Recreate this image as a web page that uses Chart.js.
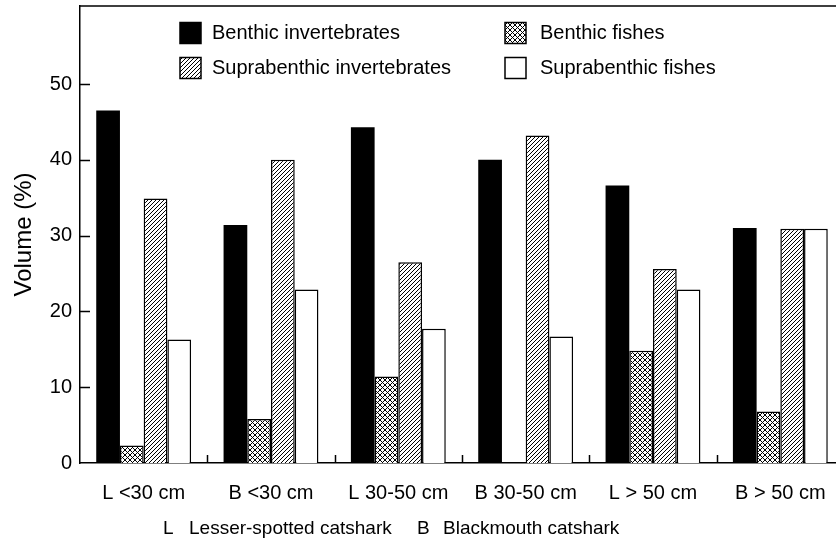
<!DOCTYPE html>
<html>
<head>
<meta charset="utf-8">
<script src="https://cdn.jsdelivr.net/npm/chart.js@4/dist/chart.umd.min.js"></script>
<style>
  html, body { margin: 0; padding: 0; background: #fff; overflow: hidden; }
  #wrap { width: 852px; height: 545px; }
</style>
</head>
<body>
<div id="wrap"><canvas id="dietChart" width="852" height="545"></canvas></div>
<script>
// values
const categories = ["L <30 cm", "B <30 cm", "L 30-50 cm", "B 30-50 cm", "L > 50 cm", "B > 50 cm"];
const benthicInv = [46.5, 31.4, 44.3, 40.0, 36.6, 31.0];
const benthicFish = [2.3, 5.8, 11.4, 0, 14.8, 6.8];
const supraInv = [34.9, 40.0, 26.5, 43.2, 25.6, 30.9];
const supraFish = [16.3, 22.9, 17.7, 16.7, 22.9, 30.9];
const yTicks = [0, 10, 20, 30, 40, 50];

const FONT = "'Liberation Sans', Arial, sans-serif";

// hatch patterns
function makePattern(kind) {
  const s = kind === "cross" ? 5 : 4;
  const c = document.createElement("canvas");
  c.width = s; c.height = s;
  const g = c.getContext("2d");
  g.fillStyle = "#fff";
  g.fillRect(0, 0, s, s);
  g.strokeStyle = "#000";
  g.lineWidth = 1;
  g.beginPath();
  g.moveTo(-1, s + 1); g.lineTo(s + 1, -1);
  if (kind === "cross") {
    g.moveTo(-1, -1); g.lineTo(s + 1, s + 1);
  }
  g.stroke();
  return g.createPattern(c, "repeat");
}

const ctx = document.getElementById("dietChart");
const hatch = makePattern("diag");
const cross = makePattern("cross");

// legend drawn inside the plot, two columns
const legendPlugin = {
  id: "boxLegend",
  afterDraw(chart) {
    const g = chart.ctx;
    const a = chart.chartArea;
    const cols = [a.left + 100, a.left + 425];
    const rows = [a.top + 27, a.top + 62];
    chart.data.datasets.forEach((ds, i) => {
      const x = cols[i % 2], y = rows[Math.floor(i / 2)];
      g.save();
      g.fillStyle = ds.backgroundColor;
      g.fillRect(x, y - 10.5, 21, 21);
      g.strokeStyle = "#000";
      g.lineWidth = 1.5;
      g.strokeRect(x, y - 10.5, 21, 21);
      g.fillStyle = "#000";
      g.font = "20px " + FONT;
      g.textBaseline = "middle";
      g.fillText(ds.label, x + 32 + (i % 2) * 3, y);
      g.restore();
    });
  }
};

// frame line on top, inward ticks, species note
const framePlugin = {
  id: "frame",
  afterDraw(chart) {
    const g = chart.ctx;
    const a = chart.chartArea;
    const xs = chart.scales.x, ys = chart.scales.y;
    g.save();
    g.strokeStyle = "#000";
    g.lineWidth = 1.5;
    g.beginPath();
    g.moveTo(a.left, a.top);
    g.lineTo(chart.width, a.top);
    yTicks.forEach(v => {
      if (v === 0) return;
      const y = Math.round(ys.getPixelForValue(v)) + 0.5;
      g.moveTo(a.left, y);
      g.lineTo(a.left + 10, y);
    });
    for (let i = 1; i < categories.length; i++) {
      const x = Math.round((xs.getPixelForValue(i - 1) + xs.getPixelForValue(i)) / 2) + 0.5;
      g.moveTo(x, a.bottom);
      g.lineTo(x, a.bottom - 8);
    }
    g.stroke();

    g.fillStyle = "#000";
    g.font = "19px " + FONT;
    g.textBaseline = "middle";
    const ny = 529;
    g.fillText("L", a.left + 83, ny);
    g.fillText("Lesser-spotted catshark", a.left + 109, ny);
    g.fillText("B", a.left + 337, ny);
    g.fillText("Blackmouth catshark", a.left + 363, ny);
    g.restore();
  }
};

new Chart(ctx, {
  type: "bar",
  data: {
    labels: categories,
    datasets: [
      { label: "Benthic invertebrates", data: benthicInv, backgroundColor: "#000", borderColor: "#000", borderWidth: 0 },
      { label: "Benthic fishes", data: benthicFish, backgroundColor: cross, borderColor: "#000", borderWidth: 1.5 },
      { label: "Suprabenthic invertebrates", data: supraInv, backgroundColor: hatch, borderColor: "#000", borderWidth: 1.5 },
      { label: "Suprabenthic fishes", data: supraFish, backgroundColor: "#fff", borderColor: "#000", borderWidth: 1.5 }
    ]
  },
  options: {
    responsive: false,
    animation: false,
    events: [],
    layout: { padding: { top: 6, right: 8, left: 0, bottom: 0 } },
    datasets: { bar: { categoryPercentage: 0.745, barPercentage: 1 } },
    plugins: {
      legend: { display: false },
      tooltip: { enabled: false }
    },
    scales: {
      x: {
        grid: { display: false, drawTicks: false },
        border: { display: true, color: "#000", width: 1.5 },
        ticks: { color: "#000", font: { family: FONT, size: 20 }, padding: 18, maxRotation: 0, autoSkip: false },
        afterFit(scale) { scale.height = 82; }
      },
      y: {
        min: 0,
        max: 60.3,
        grid: { display: false, drawTicks: false },
        border: { display: true, color: "#000", width: 1.5 },
        afterBuildTicks(scale) { scale.ticks = yTicks.map(v => ({ value: v })); },
        ticks: { color: "#000", font: { family: FONT, size: 20 }, padding: 8 },
        title: { display: true, text: "Volume (%)", color: "#000", font: { family: FONT, size: 24 }, padding: { top: 10, bottom: 0 } },
        afterFit(scale) { scale.width = 80; scale.paddingTop = 0; scale.paddingBottom = 0; }
      }
    }
  },
  plugins: [legendPlugin, framePlugin]
});
</script>
</body>
</html>
